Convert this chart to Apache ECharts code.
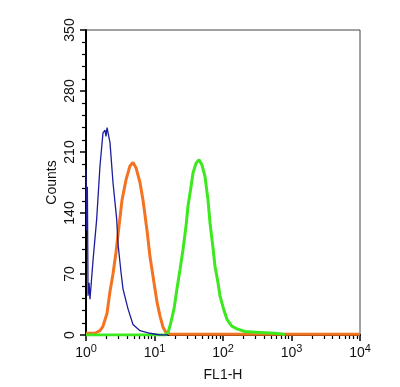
<!DOCTYPE html>
<html>
<head>
<meta charset="utf-8">
<script src="https://cdn.jsdelivr.net/npm/echarts@6/dist/echarts.min.js"></script>
<style>
  html, body { margin: 0; padding: 0; background: #fff; }
  #chart { width: 400px; height: 387px; }
</style>
</head>
<body>
<div id="chart"></div>
<script>
// x values are log10(FL1-H)
var blueX = [0, 0.01, 0.02, 0.03, 0.045, 0.058, 0.102, 0.156, 0.204, 0.248, 0.277, 0.292, 0.307, 0.35, 0.394, 0.448, 0.467, 0.511, 0.54, 0.613, 0.686, 0.788, 0.934, 1.08, 1.2];
var blueY = [190, 120, 170, 45, 60, 41, 85, 133, 194, 232, 235, 228, 238, 221, 175, 133, 105, 72, 53, 30, 12, 5, 2, 0, 0];

var orangeX = [0, 0.131, 0.204, 0.248, 0.307, 0.35, 0.394, 0.438, 0.482, 0.526, 0.584, 0.642, 0.686, 0.73, 0.788, 0.832, 0.891, 0.934, 0.993, 1.036, 1.08, 1.124, 1.168, 1.226, 4];
var orangeY = [2, 2, 5, 10, 25, 50, 70, 95, 125, 155, 178, 194, 198, 192, 175, 155, 120, 90, 60, 38, 22, 9, 3, 1, 1];

var greenX = [0, 1.168, 1.197, 1.226, 1.285, 1.328, 1.372, 1.416, 1.46, 1.489, 1.533, 1.562, 1.606, 1.65, 1.693, 1.737, 1.781, 1.81, 1.854, 1.883, 1.927, 1.956, 2.015, 2.058, 2.131, 2.204, 2.321, 2.54, 2.759, 2.876, 2.905];
var greenY = [0, 0, 3, 10, 30, 53, 75, 98, 125, 148, 170, 186, 197, 201, 195, 182, 155, 129, 100, 79, 60, 45, 28, 18, 10, 7, 4, 3, 2, 1, 0];

var decades = [0, 1, 2, 3, 4];
var yTicks = [0, 70, 140, 210, 280, 350];

function zip(xs, ys) {
  return xs.map(function (x, i) { return [x, ys[i]]; });
}

// minor tick positions for a log axis: 2..9 in each decade
var minorTicks = [];
for (var d = 0; d < 4; d++) {
  for (var k = 2; k <= 9; k++) minorTicks.push(d + Math.log10(k));
}

var chart = echarts.init(document.getElementById('chart'));
var textColor = '#111';
var font = 'Liberation Sans';

var option = {
  animation: false,
  backgroundColor: '#fff',
  grid: {
    left: 86, right: 40, top: 30, bottom: 51,
    show: true, borderColor: '#444', borderWidth: 1
  },
  xAxis: [
    {
      type: 'value', min: 0, max: 4, interval: 1,
      name: 'FL1-H', nameLocation: 'middle', nameGap: 33,
      nameTextStyle: { color: textColor, fontSize: 14, fontFamily: font },
      axisLine: { lineStyle: { color: '#000', width: 2 } },
      axisTick: { show: true, length: 6, lineStyle: { color: '#000', width: 1.5 } },
      splitLine: { show: false },
      axisLabel: {
        margin: 8,
        customValues: decades,
        formatter: function (v) { return '{b|10}{s|' + v + '}'; },
        rich: {
          b: { fontSize: 14, color: textColor, fontFamily: font },
          s: { fontSize: 11, color: textColor, fontFamily: font, padding: [0, 0, 9, 0] }
        }
      }
    },
    {
      type: 'value', min: 0, max: 4, position: 'bottom',
      axisLine: { show: false },
      axisLabel: { show: false },
      splitLine: { show: false },
      axisTick: { show: true, length: 4, customValues: minorTicks, lineStyle: { color: '#000', width: 1.2 } }
    }
  ],
  yAxis: {
    type: 'value', min: 0, max: 350, interval: 70,
    name: 'Counts', nameLocation: 'middle', nameGap: 27, nameMoveOverlap: false,
    nameTextStyle: { color: textColor, fontSize: 14, fontFamily: font },
    axisLine: { show: true, lineStyle: { color: '#000', width: 2 } },
    axisTick: { show: true, length: 6, lineStyle: { color: '#000', width: 1.5 } },
    minorTick: { show: true, splitNumber: 5, length: 4, lineStyle: { color: '#000', width: 1.2 } },
    splitLine: { show: false },
    minorSplitLine: { show: false },
    axisLabel: {
      rotate: 90, margin: 9, color: textColor, fontSize: 14, fontFamily: font,
      customValues: yTicks
    }
  },
  series: [
    {
      name: 'orange', type: 'line', data: zip(orangeX, orangeY),
      showSymbol: false, lineStyle: { color: '#f47321', width: 3 }, z: 2
    },
    {
      name: 'green', type: 'line', data: zip(greenX, greenY),
      showSymbol: false, lineStyle: { color: '#3ce81e', width: 3 }, z: 3
    },
    {
      name: 'blue', type: 'line', data: zip(blueX, blueY),
      showSymbol: false, lineStyle: { color: '#1c1c9c', width: 1.3 }, z: 4
    }
  ]
};
chart.setOption(option);
</script>
</body>
</html>
